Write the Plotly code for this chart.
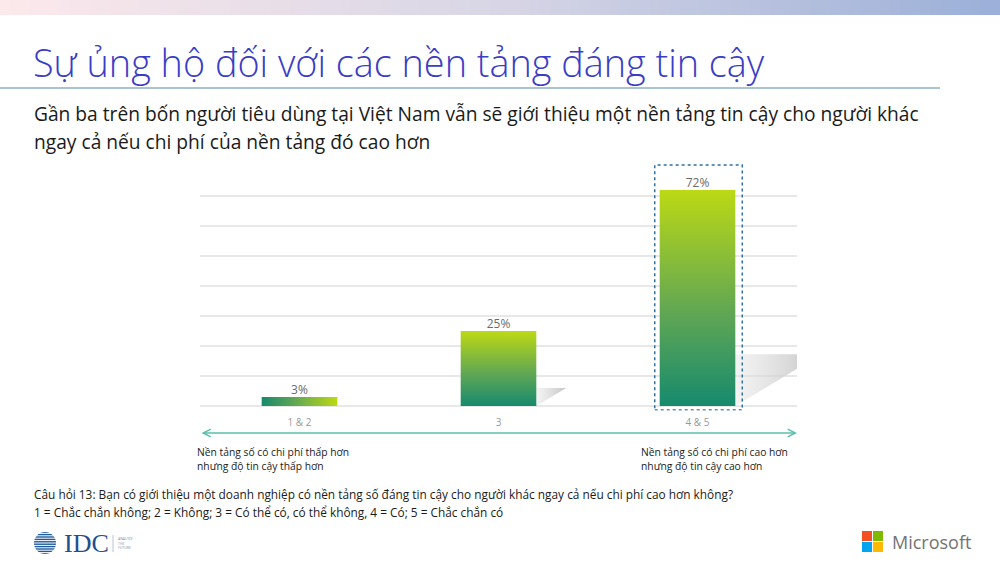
import plotly.graph_objects as go

# ---------------- data ----------------
categories = ["1 & 2", "3", "4 & 5"]
values = [3, 25, 72]
value_labels = ["3%", "25%", "72%"]
grid_ticks = [0, 10, 20, 30, 40, 50, 60, 70]
highlight_index = 2

title_text = "Sự ủng hộ đối với các nền tảng đáng tin cậy"
subtitle_lines = [
    "Gần ba trên bốn người tiêu dùng tại Việt Nam vẫn sẽ giới thiệu một nền tảng tin cậy cho người khác",
    "ngay cả nếu chi phí của nền tảng đó cao hơn",
]
left_note = ["Nền tảng số có chi phí thấp hơn", "nhưng độ tin cậy thấp hơn"]
right_note = ["Nền tảng số có chi phí cao hơn", "nhưng độ tin cậy cao hơn"]
footer_lines = [
    "Câu hỏi 13: Bạn có giới thiệu một doanh nghiệp có nền tảng số đáng tin cậy cho người khác ngay cả nếu chi phí cao hơn không?",
    "1 = Chắc chắn không; 2 = Không; 3 = Có thể có, có thể không, 4 = Có; 5 = Chắc chắn có",
]

# ---------------- styles ----------------
W, H = 1000, 563
BAR_HALF = 0.19
bar_scale = [[0, "#168a6e"], [0.45, "#63a852"], [1, "#bcd915"]]
bar_orient = ["horizontal", "vertical", "vertical"]
FONT = "Open Sans"


def py(p):
    return 1 - p / H


fig = go.Figure()

# bars (gradient filled) + shadows
for i, v in enumerate(values):
    xl, xr = i - BAR_HALF, i + BAR_HALF
    sh_top = v * 0.24
    sh_dx = v / 100 * 0.6
    if v > 5:
        fig.add_trace(go.Scatter(
            x=[xr, xr, xr + sh_dx, xr],
            y=[0, sh_top, sh_top, 0],
            fill="toself", mode="lines", line=dict(width=0),
            fillgradient=dict(type="horizontal",
                              colorscale=[[0, "rgba(225,225,225,0.4)"], [1, "rgba(195,195,195,1)"]]),
            hoverinfo="skip", showlegend=False))
    fig.add_trace(go.Scatter(
        x=[xl, xr, xr, xl, xl],
        y=[0, 0, v, v, 0],
        fill="toself", mode="lines", line=dict(width=0),
        fillgradient=dict(type=bar_orient[i], colorscale=bar_scale),
        hoverinfo="skip", showlegend=False))

# value labels
fig.add_trace(go.Scatter(
    x=list(range(len(values))), y=values, mode="text",
    text=value_labels, textposition="top center",
    textfont=dict(family=FONT, size=12, color="#6b6b6b"),
    hoverinfo="skip", showlegend=False))

fig.update_xaxes(
    domain=[0.2, 0.797], range=[-0.5, len(categories) - 0.5],
    tickvals=list(range(len(categories))), ticktext=categories,
    showgrid=False, zeroline=False, showline=False, ticks="",
    ticklabelstandoff=4,
    tickfont=dict(family=FONT, size=10, color="#999999"),
)
fig.update_yaxes(
    domain=[py(410.5), py(163)], range=[-1.5, 81],
    tickvals=grid_ticks, showticklabels=False,
    showgrid=True, gridcolor="#e8e8e8", gridwidth=1.5,
    zeroline=False, showline=False,
)

shapes = []
# top banner gradient
c_left = (252, 233, 236)
c_mid = (216, 214, 230)
c_right = (156, 176, 217)
N = 100
for k in range(N):
    t = k / (N - 1)
    if t < 0.5:
        a, b, u = c_left, c_mid, t / 0.5
    else:
        a, b, u = c_mid, c_right, (t - 0.5) / 0.5
    col = tuple(int(a[j] + (b[j] - a[j]) * u) for j in range(3))
    shapes.append(dict(type="rect", xref="paper", yref="paper",
                       x0=k / N, x1=(k + 1) / N + 0.002, y0=py(15), y1=1,
                       fillcolor="rgb(%d,%d,%d)" % col, line=dict(width=0), layer="below"))
# title underline
shapes.append(dict(type="line", xref="paper", yref="paper", x0=0, x1=0.94,
                   y0=py(88), y1=py(88), line=dict(color="#a9c4d0", width=2)))
# highlight box
shapes.append(dict(type="rect", xref="x", yref="y",
                   x0=highlight_index - 0.215, x1=highlight_index + 0.225,
                   y0=-1.3, y1=80.3,
                   line=dict(color="#2d6fa3", width=1.5, dash="dot")))

# IDC logo globe
cx, cy, r = 45, 543, 11
shapes.append(dict(type="circle", xref="paper", yref="paper",
                   x0=(cx - r) / W, x1=(cx + r) / W, y0=py(cy + r), y1=py(cy - r),
                   fillcolor="#1f5a9c", line=dict(width=0)))
for s in range(-4, 5):
    yy = cy + s * 2.4
    shapes.append(dict(type="line", xref="paper", yref="paper",
                       x0=(cx - r - 2) / W, x1=(cx + r + 2) / W, y0=py(yy), y1=py(yy),
                       line=dict(color="white", width=1)))
shapes.append(dict(type="line", xref="paper", yref="paper",
                   x0=113 / W, x1=113 / W, y0=py(535), y1=py(552),
                   line=dict(color="#b8c4d6", width=1)))
# Microsoft squares
ms_cols = ["#f25022", "#7fba00", "#00a4ef", "#ffb900"]
for k, c in enumerate(ms_cols):
    x0 = 862 + (k % 2) * 11
    y0 = 531 + (k // 2) * 11
    shapes.append(dict(type="rect", xref="paper", yref="paper",
                       x0=x0 / W, x1=(x0 + 10) / W, y0=py(y0 + 10), y1=py(y0),
                       fillcolor=c, line=dict(width=0)))

annotations = []
annotations.append(dict(text=title_text, xref="paper", yref="paper", x=31 / W, y=py(62),
                        xanchor="left", yanchor="middle", showarrow=False,
                        font=dict(family=FONT, size=37.8, color="#3a3dc6", weight=300)))
for k, line in enumerate(subtitle_lines):
    annotations.append(dict(text=line, xref="paper", yref="paper", x=32 / W, y=py(114 + k * 27),
                            xanchor="left", yanchor="middle", showarrow=False,
                            font=dict(family=FONT, size=19.2, color="#1a1a1a")))
# double arrow
annotations.append(dict(x=len(categories) - 0.5, y=py(433), xref="x", yref="paper",
                        ax=-0.5, ay=0, axref="x", ayref="pixel",
                        showarrow=True, arrowside="end+start", arrowhead=5,
                        arrowsize=1, arrowwidth=1.5, arrowcolor="#5cbfac", text=""))
for k, line in enumerate(left_note):
    annotations.append(dict(text=line, xref="paper", yref="paper", x=195 / W, y=py(452 + k * 14),
                            xanchor="left", yanchor="middle", showarrow=False,
                            font=dict(family=FONT, size=10.3, color="#1a1a1a")))
for k, line in enumerate(right_note):
    annotations.append(dict(text=line, xref="paper", yref="paper", x=639 / W, y=py(452 + k * 14),
                            xanchor="left", yanchor="middle", showarrow=False,
                            font=dict(family=FONT, size=10.3, color="#1a1a1a")))
for k, line in enumerate(footer_lines):
    annotations.append(dict(text=line, xref="paper", yref="paper", x=32 / W, y=py(494 + k * 18),
                            xanchor="left", yanchor="middle", showarrow=False,
                            font=dict(family=FONT, size=11.85, color="#1a1a1a")))
# IDC text
annotations.append(dict(text="IDC", xref="paper", yref="paper", x=62 / W, y=py(543),
                        xanchor="left", yanchor="middle", showarrow=False,
                        font=dict(family="Liberation Serif", size=26, color="#1f4f8f")))
annotations.append(dict(text="ANALYZE<br>THE<br>FUTURE", xref="paper", yref="paper", x=116 / W, y=py(543),
                        xanchor="left", yanchor="middle", showarrow=False, align="left",
                        font=dict(family=FONT, size=3.5, color="#7f8fa8")))
annotations.append(dict(text="Microsoft", xref="paper", yref="paper", x=890 / W, y=py(542),
                        xanchor="left", yanchor="middle", showarrow=False,
                        font=dict(family=FONT, size=18, color="#737373")))

fig.update_layout(
    width=W, height=H, margin=dict(l=0, r=0, t=0, b=0),
    paper_bgcolor="white", plot_bgcolor="white",
    showlegend=False, shapes=shapes, annotations=annotations,
)

fig.write_html("out.html", config={"displayModeBar": False},
               post_script="document.body.style.margin='0';document.body.style.overflow='hidden';")
